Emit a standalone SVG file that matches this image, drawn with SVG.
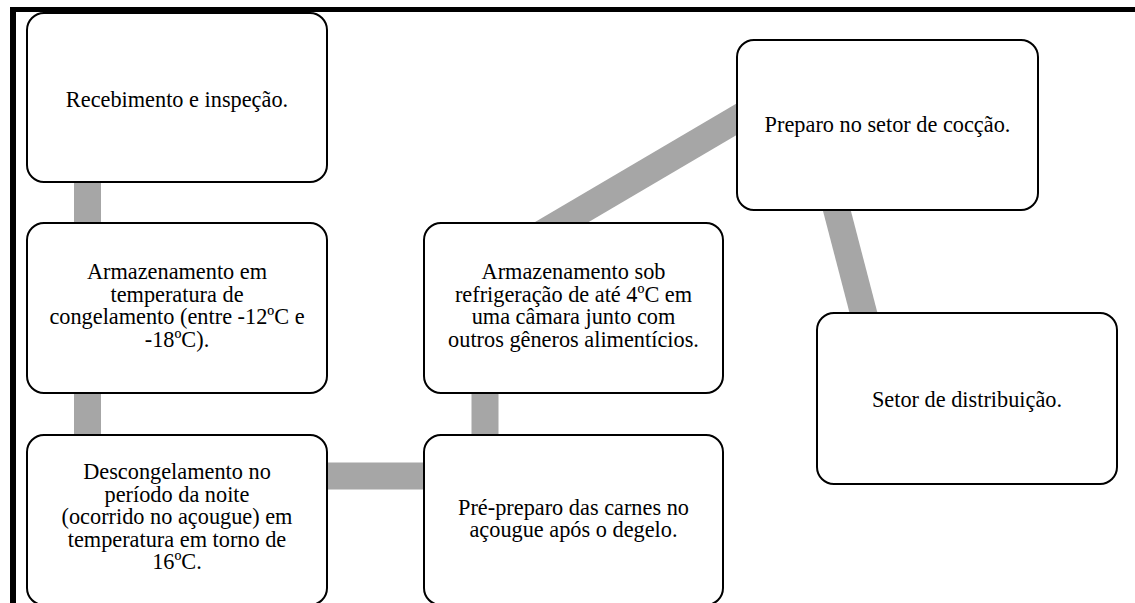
<svg xmlns="http://www.w3.org/2000/svg" width="1135" height="603" viewBox="0 0 1135 603">
<style>
.box{fill:#fff;stroke:#000;stroke-width:2}
.con{stroke:#a6a6a6;stroke-width:27;fill:none}
text{font-family:"Liberation Serif","Times New Roman",serif;font-size:22.3px;fill:#000;text-anchor:middle}
</style>
<rect width="1135" height="603" fill="#fff"/>
<g id="frame">
<rect x="10" y="7" width="1125" height="5" fill="#000"/>
<rect x="10" y="7" width="6" height="596" fill="#000"/>
</g>
<g id="connectors">
<line class="con" x1="87.5" y1="175" x2="87.5" y2="230"/>
<line class="con" x1="87.5" y1="385" x2="87.5" y2="442"/>
<line class="con" x1="320" y1="476" x2="431" y2="476"/>
<line class="con" x1="485" y1="385" x2="485" y2="442"/>
<line class="con" x1="541.5" y1="234" x2="754" y2="109"/>
<line class="con" x1="831.5" y1="190" x2="869" y2="334"/>
</g>
<g id="n1">
<rect class="box" x="27" y="13" width="300" height="169" rx="17"/>
<text x="177" y="106.7">Recebimento e inspeção.</text>
</g>
<g id="n2">
<rect class="box" x="27" y="223" width="300" height="170" rx="17"/>
<text x="177" y="279.3">Armazenamento em</text>
<text x="177" y="301.7">temperatura de</text>
<text x="177" y="324.1">congelamento (entre -12ºC e</text>
<text x="177" y="346.5">-18ºC).</text>
</g>
<g id="n3">
<rect class="box" x="27" y="435" width="300" height="170" rx="17"/>
<text x="177" y="479.3">Descongelamento no</text>
<text x="177" y="501.7">período da noite</text>
<text x="177" y="524.1">(ocorrido no açougue) em</text>
<text x="177" y="546.5">temperatura em torno de</text>
<text x="177" y="568.9">16ºC.</text>
</g>
<g id="n4">
<rect class="box" x="424" y="435" width="299" height="170" rx="17"/>
<text x="573.5" y="515">Pré-preparo das carnes no</text>
<text x="573.5" y="537.4">açougue após o degelo.</text>
</g>
<g id="n5">
<rect class="box" x="424" y="223" width="299" height="170" rx="17"/>
<text x="573.5" y="279.3">Armazenamento sob</text>
<text x="573.5" y="301.7">refrigeração de até 4ºC em</text>
<text x="573.5" y="324.1">uma câmara junto com</text>
<text x="573.5" y="346.5">outros gêneros alimentícios.</text>
</g>
<g id="n6">
<rect class="box" x="737" y="40" width="301" height="170" rx="17"/>
<text x="887.5" y="131.7">Preparo no setor de cocção.</text>
</g>
<g id="n7">
<rect class="box" x="817" y="313" width="300" height="171" rx="17"/>
<text x="967" y="406.7">Setor de distribuição.</text>
</g>
</svg>
